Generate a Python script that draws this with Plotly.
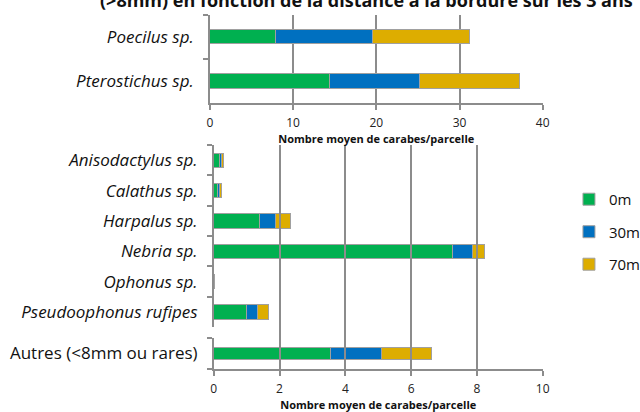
import plotly.graph_objects as go

# données
distances = ['0m', '30m', '70m']
couleurs = ['#00B050', '#0070C0', '#DDAD00']

gros_taxons = ['Poecilus sp.', 'Pterostichus sp.']
gros_valeurs = {
    '0m': [7.9, 14.4],
    '30m': [11.7, 10.8],
    '70m': [11.6, 12.0],
}

petits_taxons = ['Anisodactylus sp.', 'Calathus sp.', 'Harpalus sp.', 'Nebria sp.',
                 'Ophonus sp.', 'Pseudoophonus rufipes']
petits_valeurs = {
    '0m': [0.16, 0.10, 1.39, 7.25, 0.02, 0.98],
    '30m': [0.06, 0.08, 0.48, 0.62, 0.00, 0.34],
    '70m': [0.08, 0.07, 0.45, 0.36, 0.01, 0.35],
}

autres = ['Autres (<8mm ou rares)']
autres_valeurs = {'0m': [3.56], '30m': [1.55], '70m': [1.50]}

titre = '(>8mm) en fonction de la distance à la bordure sur les 3 ans'
titre_x = 'Nombre moyen de carabes/parcelle'

police = 'Open Sans'
gris = '#8c8c8c'
contour = dict(color='#a0a0a0', width=1)

fig = go.Figure()
for i, d in enumerate(distances):
    grp = 'g' + d
    fig.add_trace(go.Bar(y=gros_taxons, x=gros_valeurs[d], orientation='h', name=d,
                         marker=dict(color=couleurs[i], line=contour), width=0.32,
                         xaxis='x', yaxis='y', legendgroup=grp, showlegend=True))
    fig.add_trace(go.Bar(y=petits_taxons, x=petits_valeurs[d], orientation='h', name=d,
                         marker=dict(color=couleurs[i], line=contour), width=0.47,
                         xaxis='x2', yaxis='y2', legendgroup=grp, showlegend=False))
    fig.add_trace(go.Bar(y=autres, x=autres_valeurs[d], orientation='h', name=d,
                         marker=dict(color=couleurs[i], line=contour), width=0.4,
                         xaxis='x2', yaxis='y3', legendgroup=grp, showlegend=False))

# sous-graphique vide pour prolonger la grille entre les deux blocs du bas
fig.add_trace(go.Bar(y=[], x=[], orientation='h', xaxis='x2', yaxis='y4',
                     showlegend=False, hoverinfo='skip'))

axe_x = dict(showgrid=True, gridcolor=gris, gridwidth=1.5, showline=True, linecolor=gris,
             linewidth=1.5, ticks='outside', ticklen=5, tickcolor=gris, tickwidth=1.5,
             zeroline=False, tickfont=dict(family=police, size=12, color='#222'),
             ticklabelstandoff=3, automargin=False)
axe_y = dict(showline=True, linecolor=gris, linewidth=1.5, ticks='outside', ticklen=5,
             tickcolor=gris, tickwidth=1.5, tickson='boundaries', showgrid=False,
             autorange='reversed', automargin=False, ticklabelstandoff=11,
             tickfont=dict(family=police, size=17, color='#111'))
titre_axe = dict(text='<b>' + titre_x + '</b>', standoff=4,
                 font=dict(family=police, size=11, color='#111'))

fig.update_layout(
    width=640, height=412,
    template='none',
    paper_bgcolor='white', plot_bgcolor='rgba(0,0,0,0)',
    margin=dict(l=0, r=0, t=0, b=0, autoexpand=False),
    barmode='stack',
    showlegend=True,
    legend=dict(x=0.889, y=0.437, xanchor='left', yanchor='middle',
                font=dict(family=police, size=15, color='#111'),
                traceorder='grouped', tracegroupgap=10, bgcolor='rgba(0,0,0,0)'),
    xaxis=dict(axe_x, domain=[0.328, 0.848], range=[0, 40], dtick=10, anchor='y',
               title=titre_axe),
    xaxis2=dict(axe_x, domain=[0.334, 0.848], range=[0, 10], dtick=2, anchor='y3',
                title=titre_axe),
    yaxis=dict(axe_y, domain=[0.750, 0.964], anchor='x',
               tickfont=dict(family=police, size=17, color='#111', style='italic')),
    yaxis2=dict(axe_y, domain=[0.206, 0.648], anchor='x2',
                tickfont=dict(family=police, size=17, color='#111', style='italic')),
    yaxis3=dict(axe_y, domain=[0.104, 0.180], anchor='x2'),
    yaxis4=dict(domain=[0.104, 0.648], anchor='x2', visible=False, showgrid=False),
    annotations=[dict(text='<b>' + titre + '</b>', x=0.573, y=1.0, xref='paper',
                      yref='paper', xanchor='center', yanchor='bottom', yshift=-14,
                      showarrow=False, font=dict(family=police, size=18, color='#111'))],
)

# page sans marge, figure à la taille exacte de la fenêtre
mise_en_page = ("document.body.style.margin='0';"
                "document.documentElement.style.overflow='hidden';"
                "Plotly.relayout('{plot_id}', {width: 640, height: 412});")

fig.write_html('out.html', config={'responsive': False, 'displayModeBar': False},
               post_script=mise_en_page)
